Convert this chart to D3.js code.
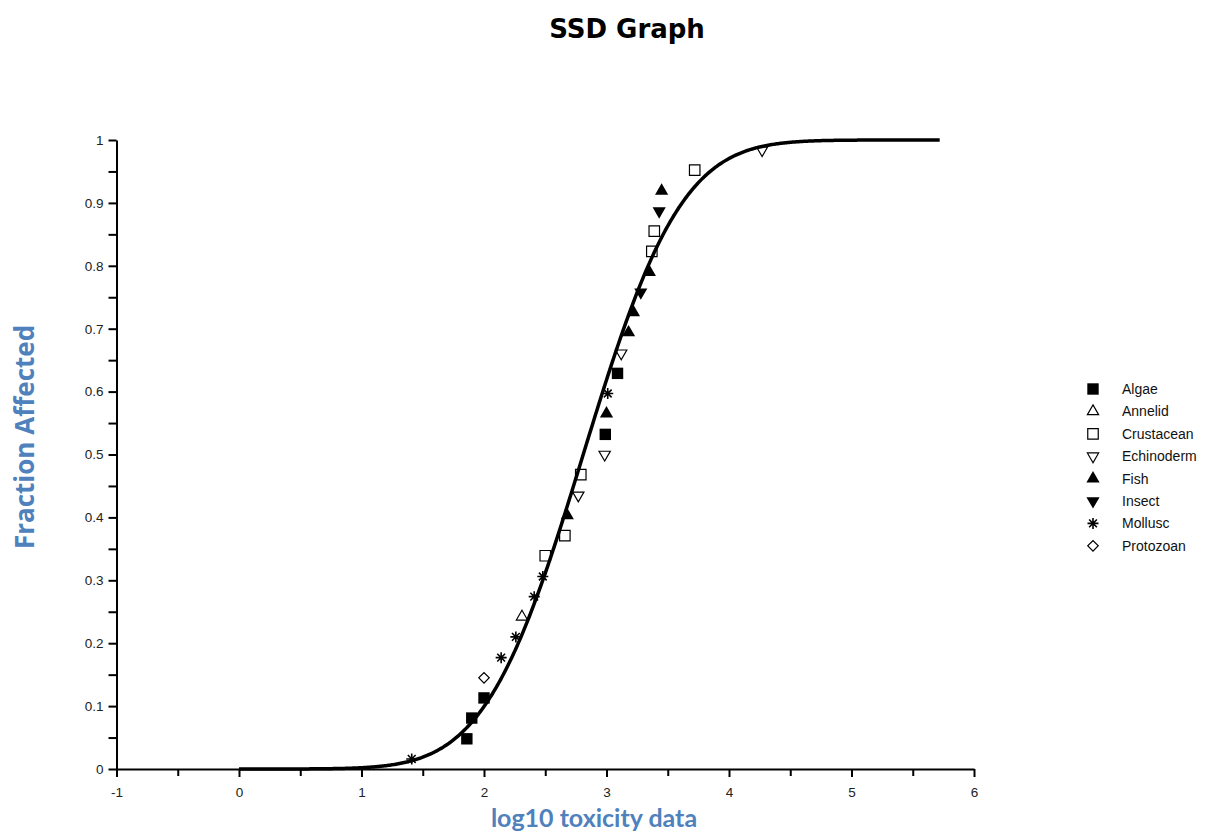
<!DOCTYPE html>
<html>
<head>
<meta charset="utf-8">
<script src="https://cdn.jsdelivr.net/npm/d3@7"></script>
<style>
  html, body { margin: 0; padding: 0; background: #ffffff; }
  svg { display: block; }
</style>
</head>
<body>
<svg id="chart" width="1220" height="834"></svg>
<script>
// ---- Data ----
const groups = ["Algae", "Annelid", "Crustacean", "Echinoderm", "Fish", "Insect", "Mollusc", "Protozoan"];

const algaeX = [1.86, 1.90, 2.00, 2.99, 3.09];
const algaeY = [0.048, 0.081, 0.113, 0.532, 0.629];

const annelidX = [2.31];
const annelidY = [0.242];

const crustaceanX = [2.50, 2.66, 2.79, 3.37, 3.39, 3.72];
const crustaceanY = [0.339, 0.371, 0.468, 0.823, 0.855, 0.952];

const echinodermX = [2.77, 2.985, 3.12, 4.27];
const echinodermY = [0.435, 0.500, 0.661, 0.984];

const fishX = [2.68, 3.00, 3.18, 3.22, 3.35, 3.45];
const fishY = [0.403, 0.565, 0.694, 0.726, 0.790, 0.919];

const insectX = [3.28, 3.43];
const insectY = [0.758, 0.887];

const molluscX = [1.41, 2.14, 2.26, 2.41, 2.48, 3.01];
const molluscY = [0.016, 0.177, 0.210, 0.274, 0.306, 0.597];

const protozoanX = [2.00];
const protozoanY = [0.145];

// fitted curve (normal CDF on log10 scale)
const curveMu = 2.81;
const curveSigma = 0.63;
const curveFrom = 0;
const curveTo = 5.72;

const xTickValues = [-1, 0, 1, 2, 3, 4, 5, 6];
const xMinorValues = [-0.5, 0.5, 1.5, 2.5, 3.5, 4.5, 5.5];
const yTickValues = [0, 0.1, 0.2, 0.3, 0.4, 0.5, 0.6, 0.7, 0.8, 0.9, 1];
const yMinorValues = [0.05, 0.15, 0.25, 0.35, 0.45, 0.55, 0.65, 0.75, 0.85, 0.95];

const title = "SSD Graph";
const xTitle = "log10 toxicity data";
const yTitle = "Fraction Affected";

// ---- Drawing ----
const svg = d3.select("#chart");
const x = d3.scaleLinear().domain([-1, 6]).range([116.5, 974]);
const y = d3.scaleLinear().domain([0, 1]).range([769, 140]);

const axisFont = "'Liberation Sans', Arial, sans-serif";

// title
svg.append("text")
  .attr("x", 627).attr("y", 38)
  .attr("text-anchor", "middle")
  .attr("font-family", "'DejaVu Sans', Verdana, sans-serif")
  .attr("font-weight", "bold")
  .attr("font-size", 26)
  .attr("fill", "#000")
  .text(title);

// axes
const gx = svg.append("g").attr("transform", `translate(0,${y(0)})`);
gx.call(d3.axisBottom(x).tickValues(xTickValues).tickSize(8).tickSizeOuter(0).tickPadding(10)
  .tickFormat(d => String(d)));
const gxm = svg.append("g").attr("transform", `translate(0,${y(0)})`);
gxm.call(d3.axisBottom(x).tickValues(xMinorValues).tickSize(7).tickSizeOuter(0).tickFormat(""));
gxm.select(".domain").remove();

const gy = svg.append("g").attr("transform", `translate(${x(-1)},0)`);
gy.call(d3.axisLeft(y).tickValues(yTickValues).tickSize(8).tickSizeOuter(0).tickPadding(5)
  .tickFormat(d => d === 0 ? "0" : d === 1 ? "1" : d3.format(".1f")(d)));
const gym = svg.append("g").attr("transform", `translate(${x(-1)},0)`);
gym.call(d3.axisLeft(y).tickValues(yMinorValues).tickSize(8).tickSizeOuter(0).tickFormat(""));
gym.select(".domain").remove();

svg.selectAll(".domain").attr("stroke", "#000").attr("stroke-width", 2);
svg.selectAll(".tick line").attr("stroke", "#000").attr("stroke-width", 2);
svg.selectAll(".tick text")
  .attr("font-family", axisFont)
  .attr("font-size", 13.5)
  .attr("fill", "#222");

// axis titles
svg.append("text")
  .attr("x", 594).attr("y", 827)
  .attr("text-anchor", "middle")
  .attr("font-family", "Lato, 'Open Sans', sans-serif")
  .attr("font-weight", "bold")
  .attr("font-size", 25)
  .attr("fill", "#4f81bd")
  .text(xTitle);

svg.append("text")
  .attr("transform", "translate(34,437) rotate(-90)")
  .attr("text-anchor", "middle")
  .attr("font-family", "'Open Sans', 'Noto Sans', sans-serif")
  .attr("font-weight", "bold")
  .attr("font-size", 26)
  .attr("fill", "#4f81bd")
  .text(yTitle);

// markers
const asteriskPath = (r) => {
  let p = "";
  for (let k = 0; k < 4; k++) {
    const a = k * Math.PI / 4;
    const dx = r * Math.cos(a), dy = r * Math.sin(a);
    p += `M${-dx},${-dy}L${dx},${dy}`;
  }
  return p;
};
const markerDefs = {
  Algae:      { path: d3.symbol(d3.symbolSquare, 130)(), rot: 0, fill: "#000", stroke: "none" },
  Annelid:    { path: d3.symbol(d3.symbolTriangle, 55)(), rot: 0, fill: "#fff", stroke: "#000" },
  Crustacean: { path: d3.symbol(d3.symbolSquare, 110)(), rot: 0, fill: "#fff", stroke: "#000" },
  Echinoderm: { path: d3.symbol(d3.symbolTriangle, 55)(), rot: 180, fill: "#fff", stroke: "#000" },
  Fish:       { path: d3.symbol(d3.symbolTriangle, 75)(), rot: 0, fill: "#000", stroke: "none" },
  Insect:     { path: d3.symbol(d3.symbolTriangle, 75)(), rot: 180, fill: "#000", stroke: "none" },
  Mollusc:    { path: asteriskPath(5.5), rot: 0, fill: "none", stroke: "#000" },
  Protozoan:  { path: d3.symbol(d3.symbolSquare, 55)(), rot: 45, fill: "#fff", stroke: "#000" }
};

const seriesX = [algaeX, annelidX, crustaceanX, echinodermX, fishX, insectX, molluscX, protozoanX];
const seriesY = [algaeY, annelidY, crustaceanY, echinodermY, fishY, insectY, molluscY, protozoanY];

const pts = svg.append("g");
groups.forEach((g, i) => {
  const m = markerDefs[g];
  const data = seriesX[i].map((v, j) => ({ x: v, y: seriesY[i][j] }));
  pts.selectAll(null).data(data).enter().append("path")
    .attr("d", m.path)
    .attr("transform", d => `translate(${x(d.x)},${y(d.y)}) rotate(${m.rot})`)
    .attr("fill", m.fill)
    .attr("stroke", m.stroke)
    .attr("stroke-width", g === "Mollusc" ? 1.6 : 1.2);
});

// fitted curve
function erf(z) {
  const t = 1 / (1 + 0.3275911 * Math.abs(z));
  const yv = 1 - (((((1.061405429 * t - 1.453152027) * t) + 1.421413741) * t - 0.284496736) * t + 0.254829592) * t * Math.exp(-z * z);
  return z >= 0 ? yv : -yv;
}
const cdf = v => 0.5 * (1 + erf((v - curveMu) / (curveSigma * Math.SQRT2)));
const curveXs = d3.range(curveFrom, curveTo + 1e-9, 0.01);
svg.append("path")
  .datum(curveXs)
  .attr("d", d3.line().x(d => x(d)).y(d => y(cdf(d))))
  .attr("fill", "none")
  .attr("stroke", "#000")
  .attr("stroke-width", 3.5)
  .attr("stroke-linejoin", "round");

// legend
const legend = svg.append("g").attr("transform", "translate(1093,389)");
groups.forEach((g, i) => {
  const m = markerDefs[g];
  const row = legend.append("g").attr("transform", `translate(0,${i * 22.4})`);
  row.append("path")
    .attr("d", m.path)
    .attr("transform", `rotate(${m.rot})`)
    .attr("fill", m.fill)
    .attr("stroke", m.stroke)
    .attr("stroke-width", g === "Mollusc" ? 1.6 : 1.2);
  row.append("text")
    .attr("x", 29).attr("y", 5)
    .attr("font-family", axisFont)
    .attr("font-size", 14)
    .attr("fill", "#111")
    .text(g);
});
</script>
</body>
</html>
